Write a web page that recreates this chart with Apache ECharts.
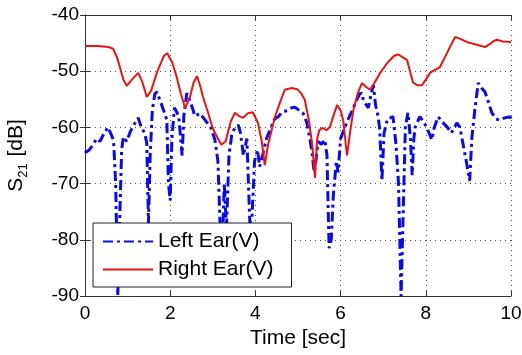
<!DOCTYPE html>
<html><head><meta charset="utf-8">
<script src="https://cdn.jsdelivr.net/npm/echarts@6/dist/echarts.min.js"></script>
<style>html,body{margin:0;padding:0;background:#fff}#c{width:522px;height:355px}</style>
</head><body><div id="c"></div>
<script>
const xTicks = [0, 2, 4, 6, 8, 10];
const yTicks = [-90, -80, -70, -60, -50, -40];
const seriesNames = ['Left Ear(V)', 'Right Ear(V)'];

const rightT = [0,0.3,0.55,0.66,0.75,0.82,0.9,0.98,1.1,1.25,1.35,1.45,1.55,1.7,1.85,1.93,2.05,2.15,2.25,2.35,2.45,2.55,2.63,2.7,2.77,2.89,2.97,3.05,3.2,3.3,3.42,3.52,3.62,3.71,3.82,3.94,4.06,4.15,4.22,4.3,4.46,4.58,4.69,4.85,4.98,5.08,5.16,5.25,5.33,5.4,5.45,5.5,5.59,5.67,5.75,5.85,5.92,6.0,6.06,6.15,6.22,6.3,6.4,6.5,6.6,6.69,6.8,6.92,7.1,7.25,7.35,7.45,7.56,7.63,7.7,7.8,7.91,8.0,8.1,8.2,8.33,8.45,8.58,8.69,8.8,8.96,9.1,9.2,9.3,9.39,9.5,9.6,9.67,9.8,10];
const rightV = [-45.5,-45.5,-45.7,-46,-47.5,-49.3,-51.5,-52.6,-51.5,-50.3,-52,-54.6,-53.5,-50,-47.3,-46.8,-48.5,-51,-54,-56.5,-55,-52,-50.9,-52.5,-54.6,-57.4,-59.5,-61,-63.1,-62.5,-59,-57.4,-58,-58.3,-57.5,-57.3,-59.2,-62.5,-66.7,-63,-58.1,-55.5,-53.3,-53,-53.2,-54,-55.1,-58.5,-62.8,-69,-62,-60.5,-60.1,-60.5,-59.9,-57.5,-56,-57,-58.7,-65,-61,-56.9,-54,-52.1,-52.8,-53.3,-52,-50.4,-48.5,-47.3,-47,-47.5,-48,-50,-52,-52.5,-52.5,-51.5,-50.3,-49.8,-49.3,-47.5,-45.5,-43.9,-44.2,-44.8,-45.1,-45.3,-45.5,-45.7,-45.2,-44.6,-44.4,-44.7,-44.8];

const leftT = [0,0.1,0.19,0.27,0.35,0.45,0.54,0.6,0.67,0.72,0.77,0.82,0.86,0.9,0.98,1.06,1.15,1.25,1.32,1.4,1.45,1.49,1.53,1.58,1.64,1.69,1.75,1.8,1.87,1.92,1.96,2.0,2.04,2.1,2.2,2.28,2.32,2.39,2.45,2.52,2.58,2.7,2.82,2.95,3.05,3.12,3.17,3.22,3.27,3.32,3.38,3.45,3.53,3.6,3.65,3.72,3.8,3.87,3.92,3.98,4.05,4.1,4.18,4.26,4.34,4.45,4.55,4.62,4.75,4.85,4.93,5.03,5.12,5.2,5.28,5.33,5.38,5.42,5.47,5.55,5.63,5.68,5.73,5.78,5.83,5.9,5.94,6.0,6.1,6.17,6.27,6.38,6.45,6.5,6.53,6.6,6.65,6.72,6.77,6.82,6.88,6.92,6.97,7.02,7.1,7.23,7.3,7.36,7.42,7.47,7.52,7.58,7.64,7.68,7.72,7.75,7.86,7.95,8.05,8.14,8.2,8.29,8.38,8.5,8.6,8.73,8.8,8.87,8.95,9.03,9.08,9.15,9.23,9.31,9.39,9.47,9.55,9.65,9.74,9.85,9.98,10];
const leftV = [-64.5,-64,-63.1,-62,-62.5,-61,-60,-61,-62.3,-70,-90,-75,-64,-61.7,-62.5,-60.8,-59.5,-58.3,-60,-61,-62.8,-77,-65,-57,-54,-53.7,-55,-56,-57.5,-58.7,-70,-73,-62,-56.5,-58,-65,-58,-53.9,-55,-56.5,-58,-57.5,-58.7,-60,-62.2,-66,-77,-82,-70,-78,-65,-61,-60,-59.6,-61,-65,-62,-77,-76,-66,-64,-67,-64.6,-62,-60.5,-58.5,-58,-57.3,-57,-56.5,-56.4,-57,-57.5,-59,-62,-64.6,-68,-66,-62.5,-63,-62.2,-65,-81.5,-80,-72,-66,-68,-62,-60,-58.7,-57,-55.1,-54,-53.9,-55,-56,-56.5,-54,-52.5,-56,-58,-60.5,-69.5,-61,-58.5,-58.1,-63,-70,-90,-75,-60,-57.4,-62,-68.5,-62,-60,-58.1,-59,-60.5,-62.2,-60,-58.1,-59,-59.9,-61,-59.2,-60,-62.8,-66,-69.5,-62,-56.9,-52.1,-53,-53.7,-55.5,-57.4,-58.5,-58.7,-58.3,-58.1,-58.5];

const pair = (t, v) => t.map((x, i) => [x, v[i]]);
const font = 'Liberation Sans, Arial, sans-serif';
const chart = echarts.init(document.getElementById('c'));
const axisCommon = {
  axisLine: { show: true, lineStyle: { color: '#333', width: 1 } },
  axisTick: { show: true, inside: true, length: 5, lineStyle: { color: '#333' } },
};
chart.setOption({
  animation: false,
  backgroundColor: '#fff',
  grid: { left: 85, top: 15, right: 11, bottom: 59, containLabel: false, outerBoundsMode: 'none' },
  legend: {
    data: seriesNames,
    orient: 'vertical',
    left: 93, top: 223,
    backgroundColor: '#fff',
    borderColor: '#222', borderWidth: 1,
    padding: [8, 18, 7, 9],
    itemWidth: 50, itemHeight: 14, itemGap: 7,
    itemStyle: { opacity: 0 },
    textStyle: { fontFamily: font, fontSize: 21, color: '#000' }
  },
  xAxis: [{
    type: 'value', min: 0, max: 10, interval: 2,
    name: 'Time [sec]', nameLocation: 'middle', nameGap: 30,
    nameTextStyle: { fontFamily: font, fontSize: 21, color: '#000' },
    axisLabel: { fontFamily: font, fontSize: 19, color: '#000', margin: 8, formatter: v => xTicks.includes(v) ? String(v) : '' },
    splitLine: { show: true, lineStyle: { color: '#555', type: [1, 4], width: 1 } },
    ...axisCommon
  }, {
    type: 'value', min: 0, max: 10, interval: 2, position: 'top',
    axisLabel: { show: false }, splitLine: { show: false }, ...axisCommon
  }],
  yAxis: [{
    type: 'value', min: -90, max: -40, interval: 10,
    name: '{a|S}{b|21}{a| [dB]}', nameLocation: 'middle', nameGap: 55, nameRotate: 90,
    nameTextStyle: { rich: {
      a: { fontFamily: font, fontSize: 21, color: '#000' },
      b: { fontFamily: font, fontSize: 13, color: '#000', verticalAlign: 'bottom', padding: [14, 1, 0, 0] }
    } },
    axisLabel: { fontFamily: font, fontSize: 19, color: '#000', margin: 6, formatter: v => yTicks.includes(v) ? String(v) : '' },
    splitLine: { show: true, lineStyle: { color: '#555', type: [1, 4], width: 1 } },
    ...axisCommon
  }, {
    type: 'value', min: -90, max: -40, interval: 10, position: 'right',
    axisLabel: { show: false }, splitLine: { show: false }, ...axisCommon
  }],
  series: [{
    name: seriesNames[0], type: 'line', xAxisIndex: 0, yAxisIndex: 0,
    data: pair(leftT, leftV), symbol: 'none', z: 2,
    lineStyle: { color: '#0a0af0', width: 3, type: [10, 4, 3, 4] },
    itemStyle: { color: '#0a0af0' }
  }, {
    name: seriesNames[1], type: 'line', xAxisIndex: 0, yAxisIndex: 0,
    data: pair(rightT, rightV), symbol: 'none', z: 3,
    lineStyle: { color: '#ee1111', width: 2 },
    itemStyle: { color: '#ee1111' }
  }]
});
</script></body></html>
